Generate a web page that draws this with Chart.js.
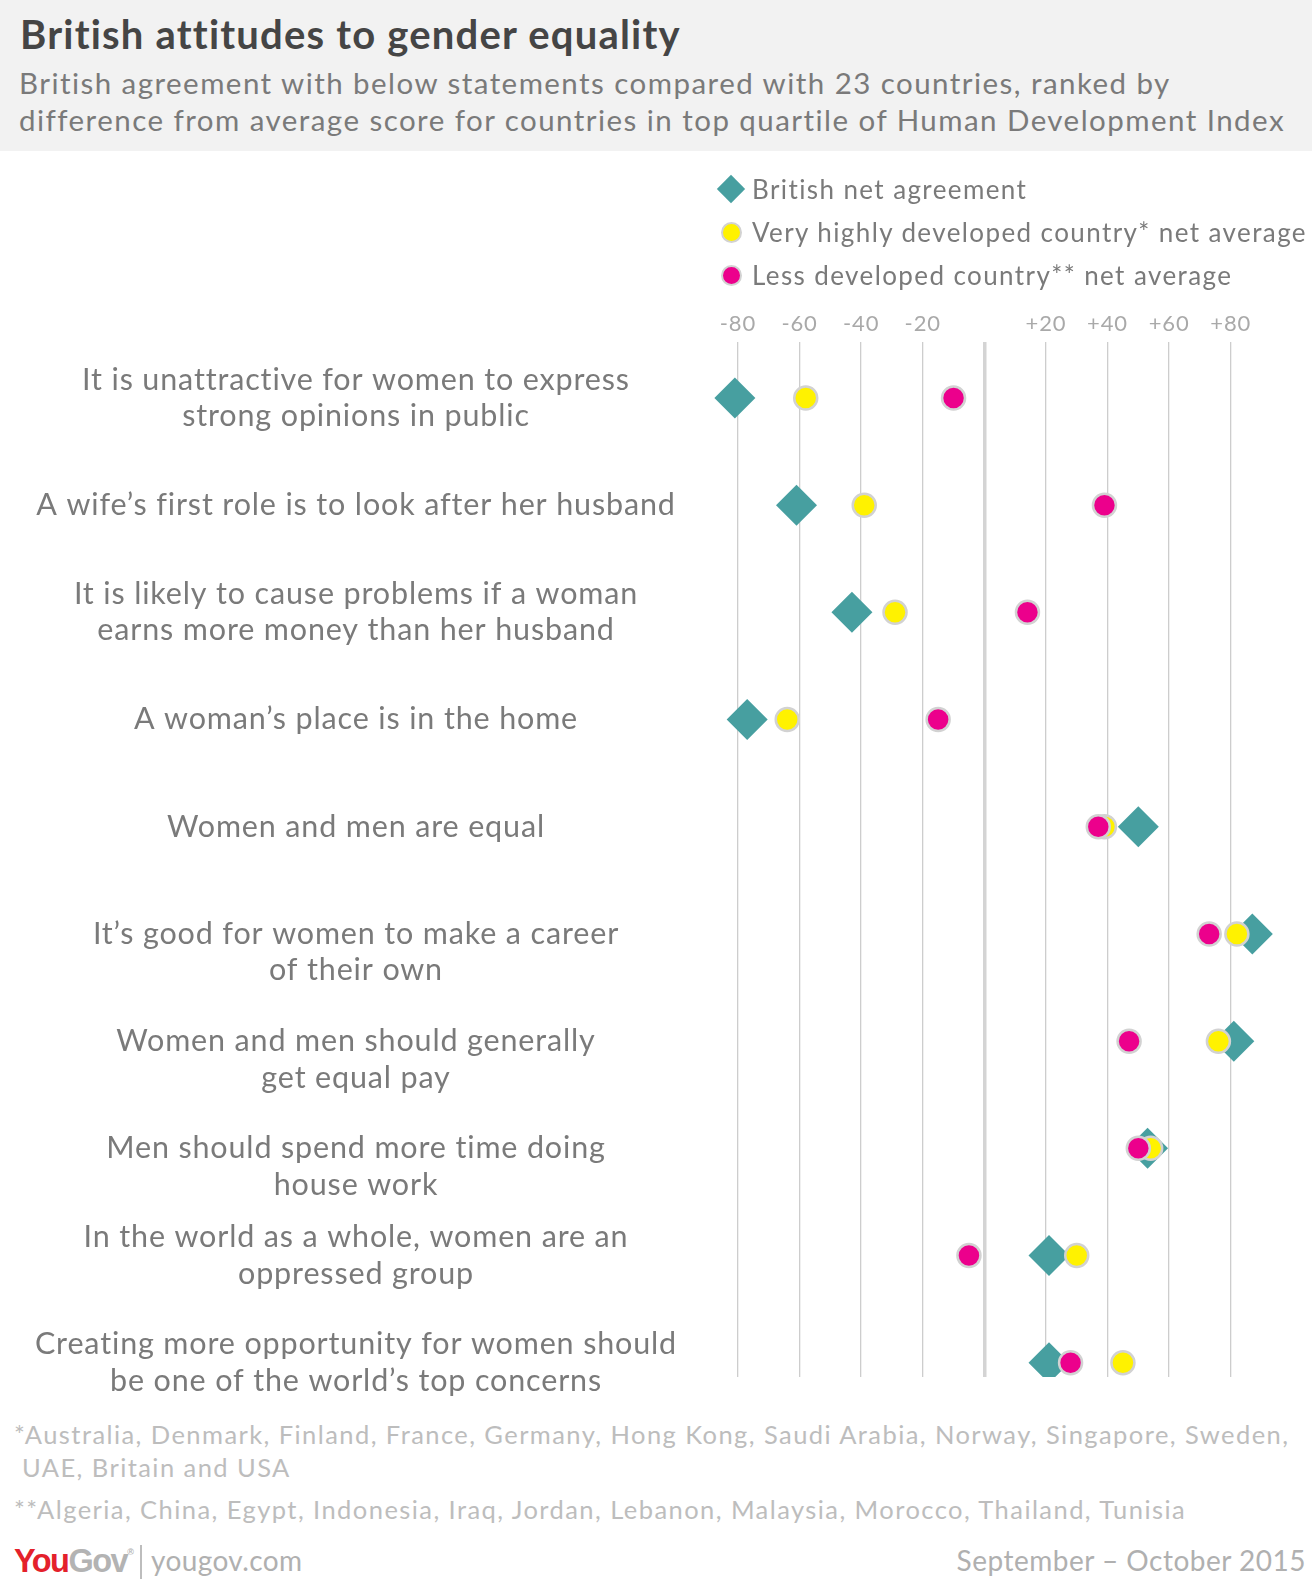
<!DOCTYPE html>
<html>
<head>
<meta charset="utf-8">
<script src="https://cdn.jsdelivr.net/npm/chart.js@4"></script>
<style>
  html, body { margin: 0; padding: 0; background: #fff; }
  body { width: 1312px; height: 1579px; position: relative; overflow: hidden; font-family: 'Lato', sans-serif; }
  #header { position: absolute; left: 0; top: 0; width: 1312px; height: 151px; background: #f2f2f2; }
  #title { position: absolute; left: 20px; top: 10px; font-size: 40px; font-weight: 700; letter-spacing: 1.2px; color: #454545; white-space: nowrap; }
  #subtitle { position: absolute; left: 19px; top: 64px; font-size: 29.5px; line-height: 37px; letter-spacing: 1.45px; color: #7a7a7a; white-space: nowrap; }
  #chartWrap { position: absolute; left: 0; top: 151px; width: 1312px; height: 1260px; }
  #legend { position: absolute; left: 710px; top: 169.5px; font-size: 26px; letter-spacing: 1.4px; color: #7a7a7a; }
  .li { position: relative; height: 43px; line-height: 38px; padding-left: 42px; white-space: nowrap; }
  .mk { position: absolute; }
  .dia { left: 11px; top: 9px; width: 20px; height: 20px; background: #479fa0; transform: rotate(45deg); }
  .cir { left: 11px; top: 9px; width: 17px; height: 17px; border-radius: 50%; border: 2px solid #d2d2d2; }
  .note { position: absolute; left: 14px; font-size: 25.5px; letter-spacing: 1.43px; color: #bdbdbd; white-space: nowrap; line-height: 33px; }
  #footer { position: absolute; left: 14px; top: 1545px; height: 40px; width: 1292px; }
  #logo { position: absolute; left: 0; top: -2px; font-family: 'Liberation Sans Narrow', 'Liberation Sans', sans-serif; font-weight: 700; font-size: 32.5px; letter-spacing: -1.5px; }
  #logo .y { color: #e4212b; } #logo .g { color: #b3b3b3; }
  #logo sup { font-size: 9px; color: #b3b3b3; vertical-align: top; position: relative; top: 4px; letter-spacing: 0; }
  #sep { position: absolute; left: 126px; top: 0px; width: 1.5px; height: 36px; background: #bdbdbd; }
  #site { position: absolute; left: 137px; top: -2px; font-size: 28px; letter-spacing: 0.4px; color: #b0b0b0; }
  #date { position: absolute; right: 0; top: -2px; font-size: 28px; letter-spacing: 0.5px; color: #b0b0b0; }
</style>
</head>
<body>
<div id="header">
  <div id="title">British attitudes to gender equality</div>
  <div id="subtitle">British agreement with below statements compared with 23 countries, ranked by<br>difference from average score for countries in top quartile of Human Development Index</div>
</div>
<div id="chartWrap"><canvas id="c" width="1312" height="1260"></canvas></div>
<div id="legend">
  <div class="li"><span class="mk dia"></span>British net agreement</div>
  <div class="li"><span class="mk cir" style="background:#fff200"></span>Very highly developed country* net average</div>
  <div class="li"><span class="mk cir" style="background:#ec008c"></span>Less developed country** net average</div>
</div>
<div class="note" style="top:1418px">*Australia, Denmark, Finland, France, Germany, Hong Kong, Saudi Arabia, Norway, Singapore, Sweden,</div>
<div class="note" style="top:1451px; left:22px">UAE, Britain and USA</div>
<div class="note" style="top:1493px">**Algeria, China, Egypt, Indonesia, Iraq, Jordan, Lebanon, Malaysia, Morocco, Thailand, Tunisia</div>
<div id="footer">
  <div id="logo"><span class="y">You</span><span class="g">Gov</span><sup>®</sup></div>
  <div id="sep"></div>
  <div id="site">yougov.com</div>
  <div id="date">September – October 2015</div>
</div>
<script>
const categories = [
  ["It is unattractive for women to express", "strong opinions in public"],
  ["A wife’s first role is to look after her husband"],
  ["It is likely to cause problems if a woman", "earns more money than her husband"],
  ["A woman’s place is in the home"],
  ["Women and men are equal"],
  ["It’s good for women to make a career", "of their own"],
  ["Women and men should generally", "get equal pay"],
  ["Men should spend more time doing", "house work"],
  ["In the world as a whole, women are an", "oppressed group"],
  ["Creating more opportunity for women should", "be one of the world’s top concerns"]
];
const britishNet = [-81, -61, -43, -77, 50, 87, 81, 53, 21, 21];
const veryHighNet = [-58, -39, -29, -64, 39, 82, 76, 54, 30, 45];
const lessDevNet = [-10, 39, 14, -15, 37, 73, 47, 50, -5, 28];
const xTickValues = [-80, -60, -40, -20, 0, 20, 40, 60, 80];
const xTickLabels = ['-80', '-60', '-40', '-20', '', '+20', '+40', '+60', '+80'];

// In the original, the labels of these rows start on the marker line instead of being centred on it
const firstLineOnRow = new Set([5, 6, 7]);

const LETTER_SPACING = '0.85px';
const labelFont = { family: 'Lato', size: 30.5, weight: '400', lineHeight: 1.2 };
const Y_AXIS_WIDTH = 705;
const LABEL_CENTER = 356;
const mctx = document.createElement('canvas').getContext('2d');
mctx.font = `normal ${labelFont.weight} ${labelFont.size}px ${labelFont.family}`;
mctx.letterSpacing = LETTER_SPACING;
let widest = 0;
categories.forEach(l => l.forEach(s => { widest = Math.max(widest, mctx.measureText(s).width); }));
const yPad = Y_AXIS_WIDTH - LABEL_CENTER - widest / 2;

const spacingPlugin = {
  id: 'spacing',
  beforeInit(chart) { chart.ctx.letterSpacing = LETTER_SPACING; },
  beforeUpdate(chart) { chart.ctx.letterSpacing = LETTER_SPACING; },
  beforeDraw(chart) { chart.ctx.letterSpacing = LETTER_SPACING; }
};

const pts = arr => arr.map((v, i) => ({ x: v, y: i }));

new Chart(document.getElementById('c'), {
  type: 'scatter',
  plugins: [spacingPlugin],
  data: {
    datasets: [
      { label: 'Less developed country** net average', data: pts(lessDevNet), order: 1,
        pointStyle: 'circle', pointRadius: 11.5, pointHoverRadius: 11.5, backgroundColor: '#ec008c', borderColor: '#d2d2d2', borderWidth: 2.5 },
      { label: 'Very highly developed country* net average', data: pts(veryHighNet), order: 2,
        pointStyle: 'circle', pointRadius: 11.5, pointHoverRadius: 11.5, backgroundColor: '#fff200', borderColor: '#d2d2d2', borderWidth: 2.5 },
      { label: 'British net agreement', data: pts(britishNet), order: 3,
        pointStyle: 'rectRot', pointRadius: 20.5, pointHoverRadius: 20.5, backgroundColor: '#479fa0', borderColor: '#479fa0', borderWidth: 0 }
    ]
  },
  options: {
    responsive: false,
    animation: false,
    events: [],
    layout: { padding: { top: 151, bottom: 34, left: 0, right: 32 } },
    plugins: { legend: { display: false }, tooltip: { enabled: false } },
    scales: {
      x: {
        type: 'linear', position: 'top', min: -90.7, max: 96,
        afterBuildTicks: s => { s.ticks = xTickValues.map(v => ({ value: v })); },
        afterFit: s => { s.height = 40; s.paddingLeft = 0; s.paddingRight = 0; },
        border: { display: false },
        grid: {
          drawTicks: false,
          color: c => c.tick && c.tick.value === 0 ? '#d4d4d4' : '#cdcdcd',
          lineWidth: c => c.tick && c.tick.value === 0 ? 3.5 : 1.3
        },
        ticks: {
          padding: 5,
          color: '#a9a9a9',
          font: { family: 'Lato', size: 22 },
          callback: (v, i) => xTickLabels[i]
        }
      },
      y: {
        type: 'linear', reverse: true, min: -0.522, max: 9.133,
        afterBuildTicks: s => { s.ticks = categories.map((c, i) => ({ value: i })); },
        afterFit: s => { s.width = Y_AXIS_WIDTH; s.paddingTop = 0; s.paddingBottom = 0; },
        border: { display: false },
        grid: { display: false, drawTicks: false },
        ticks: {
          crossAlign: 'center',
          padding: yPad,
          color: '#7a7a7a',
          font: labelFont,
          callback: v => firstLineOnRow.has(v) ? [''].concat(categories[v]) : categories[v]
        }
      }
    }
  }
});
</script>
</body>
</html>
